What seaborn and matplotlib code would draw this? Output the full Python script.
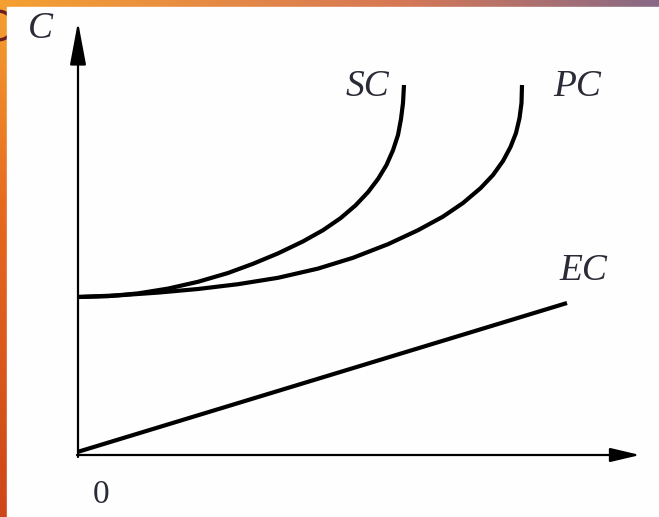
import numpy as np
import pandas as pd
import matplotlib
matplotlib.use("Agg")
import matplotlib.pyplot as plt
import seaborn as sns

# --- data (Q = output, C = cost) ---
sc_q = [0, 0.6, 1.2, 1.8, 2.4, 3.0, 3.5, 4.0, 4.5, 4.9, 5.25, 5.55, 5.8,
        6.0, 6.17, 6.3, 6.4, 6.46, 6.5, 6.52]
sc_c = [3.95, 3.97, 4.04, 4.16, 4.33, 4.55, 4.78, 5.04, 5.34, 5.62, 5.92,
        6.24, 6.57, 6.9, 7.25, 7.62, 8.0, 8.4, 8.8, 9.25]

pc_q = [0, 0.8, 1.6, 2.4, 3.2, 4.0, 4.8, 5.5, 6.2, 6.8, 7.3, 7.7, 8.05,
        8.3, 8.5, 8.65, 8.76, 8.83, 8.87, 8.88]
pc_c = [3.95, 3.99, 4.06, 4.15, 4.27, 4.43, 4.66, 4.93, 5.27, 5.62, 5.96,
        6.3, 6.67, 7.0, 7.35, 7.7, 8.05, 8.42, 8.8, 9.25]

ec_q = [0, 9.78]
ec_c = [0.08, 3.8]

curve_labels = ["SC", "PC", "EC"]
label_pos = [(5.78, 9.2), (9.98, 9.2), (10.1, 4.6)]

x_tip = 11.24
y_tip = 10.83

sns.set_style("white")
plt.rcParams['font.family'] = ['Liberation Serif', 'DejaVu Serif']

fig = plt.figure(figsize=(6.59, 5.17), dpi=100)

# --- slide background (orange border strips) ---
bg = fig.add_axes([0, 0, 1, 1])
bg.set_axis_off()
h, w = 517, 659
gx = np.linspace(0, 1, w)
gy = np.linspace(0, 1, h)
top = np.stack([np.interp(gx, [0, 0.6, 1], [245, 215, 135]),
                np.interp(gx, [0, 0.6, 1], [160, 120, 105]),
                np.interp(gx, [0, 0.6, 1], [50, 85, 135])], axis=-1) / 255
left = np.stack([np.interp(gy, [0, 0.4, 1], [245, 230, 205]),
                 np.interp(gy, [0, 0.4, 1], [160, 105, 70]),
                 np.interp(gy, [0, 0.4, 1], [50, 30, 25])], axis=-1) / 255
wt = gy[:, None, None] / (gy[:, None, None] + gx[None, :, None] + 1e-6)
img = top[None, :, :] * (1 - wt) + left[:, None, :] * wt
bg.imshow(np.clip(img, 0, 1), extent=[0, w, h, 0], aspect="auto")
bg.text(-5, 30, "C", fontsize=30, color="#6b1e1e", family="DejaVu Sans",
        va="center", ha="center")
bg.add_patch(plt.Rectangle((7, 7), w - 7, h - 7, color="#fdfefd", zorder=3))
bg.set_xlim(0, w)
bg.set_ylim(h, 0)

# --- chart axes, spanning the whole figure ---
ax = fig.add_axes([0, 0, 1, 1])
ax.patch.set_alpha(0)
ax.set_xlim(-1.56, 11.62)
ax.set_ylim(-1.55, 11.375)
ax.set_axis_off()

df = pd.concat([
    pd.DataFrame({"Q": sc_q, "C": sc_c, "curve": "SC"}),
    pd.DataFrame({"Q": pc_q, "C": pc_c, "curve": "PC"}),
    pd.DataFrame({"Q": ec_q, "C": ec_c, "curve": "EC"}),
])
sns.lineplot(data=df, x="Q", y="C", units="curve", estimator=None, sort=False,
             color="black", linewidth=3.0, ax=ax, legend=False,
             solid_joinstyle="round", solid_capstyle="butt")

# axes with arrow heads
ax.annotate("", xy=(0, y_tip), xytext=(0, -0.05),
            arrowprops=dict(arrowstyle="-|>,head_length=0.8,head_width=0.15",
                            mutation_scale=33, lw=1.6, color="black",
                            shrinkA=0, shrinkB=0))
ax.annotate("", xy=(x_tip, 0), xytext=(-0.02, 0),
            arrowprops=dict(arrowstyle="-|>,head_length=0.55,head_width=0.13",
                            mutation_scale=33, lw=1.6, color="black",
                            shrinkA=0, shrinkB=0))

txt_color = "#2b2b38"
for lab, (qx, cy) in zip(curve_labels, label_pos):
    ax.text(qx, cy, lab, fontsize=27, style="italic", color=txt_color,
            ha="center", va="center")
ax.text(-0.76, 10.65, "C", fontsize=27, style="italic", color=txt_color,
        ha="center", va="center")
ax.text(0.46, -1.0, "0", fontsize=24, color=txt_color, ha="center", va="center")

fig.savefig("out.png", dpi=100)
